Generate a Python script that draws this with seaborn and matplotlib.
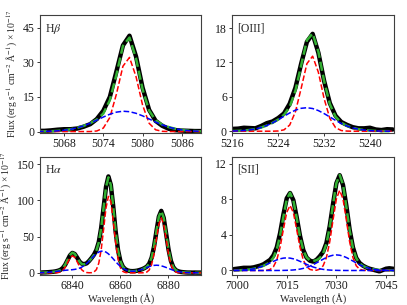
import numpy as np
import matplotlib
matplotlib.use('Agg')
import matplotlib.pyplot as plt
import seaborn as sns

# pixel grids (1 A sampling) and fluxes, units of 1e-17

# H beta
hb_wave = np.arange(5064, 5090)
hb_obs = [0.3, 0.3, 0.5, 0.8, 1.0, 1.0, 1.3, 2.1, 3.2, 5.4, 9.0, 15.0, 26.0,
          37.3, 41.5, 32.5, 19.0, 9.4, 4.6, 2.5, 1.2, 0.6, 0.4, 0.3, 0.2, 0.2]
hb_narrow = [0, 0, 0, 0, 0, 0, 0, 0, 0, 0.24, 1.5, 6.1, 16.2,
             28.3, 32.1, 23.8, 11.5, 3.6, 0.75, 0.1, 0, 0, 0, 0, 0, 0]
hb_broad = [0.03, 0.07, 0.14, 0.29, 0.55, 0.96, 1.6, 2.48, 3.62, 4.93, 6.28, 7.5, 8.4,
            8.8, 8.6, 7.9, 6.8, 5.47, 4.1, 2.9, 1.92, 1.19, 0.69, 0.37, 0.19, 0.09]

# [OIII]
o3_wave = np.arange(5216, 5245)
o3_obs = [0.4, 0.45, 0.6, 0.55, 0.5, 0.9, 1.4, 1.7, 2.3, 3.1, 4.8, 7.6, 11.8, 15.6, 17.0,
          13.7, 8.8, 4.9, 2.7, 1.6, 1.1, 0.7, 0.5, 0.5, 0.6, 0.3, 0.2, 0.35, 0.3]
o3_narrow = [0, 0, 0, 0, 0, 0, 0, 0, 0.04, 0.24, 1.08, 3.4, 7.5, 11.8, 13.1,
             10.3, 5.7, 2.25, 0.62, 0.12, 0.02, 0, 0, 0, 0, 0, 0, 0, 0]
o3_broad = [0.03, 0.06, 0.12, 0.22, 0.39, 0.64, 0.99, 1.46, 2.0, 2.61, 3.19, 3.68, 4.0, 4.1, 3.96,
            3.6, 3.08, 2.49, 1.89, 1.36, 0.91, 0.58, 0.35, 0.2, 0.1, 0.05, 0.02, 0.01, 0.0]

# H alpha + [NII]
ha_wave = np.arange(6826, 6895)
ha_obs = [0.5, 0.4, 0.6, 0.7, 0.9, 1.2, 1.5, 2.0, 2.8, 4.0,
          6.5, 11.0, 17.5, 24.0, 27.5, 26.0, 21.0, 15.5, 12.5, 12.0,
          13.2, 16.5, 20.5, 25.0, 31.5, 42.5, 62.0, 90.0, 118.5, 133.0,
          121.5, 92.0, 57.5, 31.5, 16.0, 8.5, 5.0, 3.3, 2.5, 2.3,
          2.5, 3.0, 3.9, 5.0, 6.5, 8.6, 12.8, 21.0, 36.5, 57.5,
          77.5, 85.5, 76.0, 54.5, 32.5, 16.5, 7.8, 3.8, 2.2, 1.3,
          0.9, 0.6, 0.4, 0.4, 0.3, 0.4, 0.3, 0.3, 0.3]
ha_narrow = [0, 0, 0, 0, 0, 0, 0, 0.06, 0.3, 1.1,
             3.2, 7.6, 14.0, 20.4, 23.5, 21.4, 15.4, 8.7, 3.9, 1.4,
             0.4, 0.1, 0.23, 1.2, 4.4, 13.3, 31.8, 60.0, 89.5, 105.5,
             98.3, 72.4, 42.2, 19.4, 7.0, 2.0, 0.46, 0.08, 0, 0,
             0, 0, 0, 0.02, 0.24, 1.1, 4.0, 11.5, 26.3, 47.3,
             67.3, 75.7, 67.3, 47.3, 26.3, 11.5, 4.0, 1.1, 0.24, 0.02,
             0, 0, 0, 0, 0, 0, 0, 0, 0]
ha_broad = [0.12, 0.2, 0.32, 0.49, 0.73, 1.03, 1.4, 1.81, 2.27, 2.72,
            3.14, 3.49, 3.79, 4.05, 4.33, 4.76, 5.42, 6.48, 8.05, 10.2,
            13.0, 16.2, 19.8, 23.3, 26.4, 28.7, 29.9, 29.8, 28.6, 26.2,
            23.0, 19.3, 15.5, 12.0, 8.9, 6.4, 4.5, 3.2, 2.46, 2.2,
            2.38, 2.92, 3.78, 4.88, 6.14, 7.43, 8.63, 9.63, 10.27, 10.5,
            10.27, 9.63, 8.63, 7.41, 6.1, 4.8, 3.62, 2.61, 1.81, 1.2,
            0.76, 0.46, 0.27, 0.15, 0.08, 0.04, 0.02, 0.01, 0.0]

# [SII] doublet, one broad component per line
s2_wave = np.arange(6999, 7049)
s2_obs = [0.15, 0.2, 0.25, 0.3, 0.3, 0.3, 0.35, 0.45, 0.55, 0.7,
          0.95, 1.2, 1.7, 2.6, 4.2, 6.3, 8.1, 8.7, 7.9, 6.0,
          3.9, 2.3, 1.45, 1.1, 1.0, 1.2, 1.6, 2.1, 3.1, 5.0,
          7.5, 9.8, 10.7, 9.6, 7.3, 4.6, 2.6, 1.4, 0.85, 0.55,
          0.35, 0.2, 0.1, 0.0, -0.1, 0.05, 0.2, 0.25, 0.2, 0.15]
s2_narrow = [0, 0, 0, 0, 0, 0, 0, 0, 0, 0,
             0.03, 0.12, 0.43, 1.18, 2.63, 4.63, 6.52, 7.3, 6.52, 4.63,
             2.63, 1.18, 0.43, 0.12, 0.03, 0.03, 0.15, 0.53, 1.46, 3.24,
             5.71, 8.04, 9.0, 8.04, 5.71, 3.24, 1.46, 0.53, 0.15, 0.03,
             0, 0, 0, 0, 0, 0, 0, 0, 0, 0]
s2_broad1 = [0.009, 0.016, 0.028, 0.048, 0.08, 0.126, 0.19, 0.28, 0.39, 0.53,
             0.69, 0.86, 1.03, 1.19, 1.31, 1.39, 1.42, 1.39, 1.31, 1.19,
             1.03, 0.86, 0.69, 0.53, 0.39, 0.28, 0.19, 0.126, 0.08, 0.048,
             0.028, 0.016, 0.009, 0.004, 0, 0, 0, 0, 0, 0,
             0, 0, 0, 0, 0, 0, 0, 0, 0, 0]
s2_broad2 = [0, 0, 0, 0, 0, 0, 0, 0, 0, 0,
             0, 0, 0, 0.003, 0.005, 0.011, 0.019, 0.035, 0.06, 0.098,
             0.156, 0.236, 0.347, 0.487, 0.656, 0.852, 1.06, 1.27, 1.46, 1.615,
             1.715, 1.75, 1.715, 1.615, 1.46, 1.27, 1.06, 0.852, 0.656, 0.487,
             0.347, 0.236, 0.156, 0.098, 0.06, 0.035, 0.019, 0.011, 0.005, 0.003]

sns.set_style('ticks')
plt.rcParams['font.family'] = ['Liberation Serif', 'DejaVu Serif']
plt.rcParams['mathtext.fontset'] = 'stix'

fig, axes = plt.subplots(2, 2, figsize=(4.07, 3.05), dpi=100)
fig.subplots_adjust(left=0.098, right=0.968, top=0.951, bottom=0.1,
                    wspace=0.192, hspace=0.2)

ylab = r'Flux (erg s$^{-1}$ cm$^{-2}$ Å$^{-1}$) × 10$^{-17}$'


def draw_panel(ax, wave, obs, narrow, broads, name, xlim, ylim, xticks, yticks):
    total = np.array(narrow, dtype=float)
    for b in broads:
        total = total + np.array(b)
    sns.lineplot(x=wave, y=obs, ax=ax, color='k', lw=3.2, zorder=2)
    sns.lineplot(x=wave, y=total, ax=ax, color='#33b033', lw=1.8,
                 linestyle='--', dashes=(3.5, 1.2), zorder=3)
    sns.lineplot(x=wave, y=narrow, ax=ax, color='red', lw=1.1,
                 linestyle='--', dashes=(3, 1.6), zorder=4)
    for b in broads:
        sns.lineplot(x=wave, y=b, ax=ax, color='blue', lw=1.1,
                     linestyle='--', dashes=(3, 1.6), zorder=5)
    ax.set_xlim(xlim)
    ax.set_ylim(ylim)
    ax.set_xticks(xticks)
    ax.set_yticks(yticks)
    ax.tick_params(labelsize=8.5, length=2.5, width=0.6, pad=1.5, colors='0.1')
    ax.text(0.03, 0.94, name, transform=ax.transAxes, ha='left', va='top', fontsize=8.5)
    for s in ax.spines.values():
        s.set_linewidth(0.8)
        s.set_color('0.25')
    ax.set_xlabel('')
    ax.set_ylabel('')


draw_panel(axes[0, 0], hb_wave, hb_obs, hb_narrow, [hb_broad], r'H$\beta$',
           (5064.3, 5089), (-0.6, 50.5), [5068, 5074, 5080, 5086], [0, 15, 30, 45])
draw_panel(axes[0, 1], o3_wave, o3_obs, o3_narrow, [o3_broad], '[OIII]',
           (5216, 5244.2), (-0.3, 20.3), [5216, 5224, 5232, 5240], [0, 6, 12, 18])
draw_panel(axes[1, 0], ha_wave, ha_obs, ha_narrow, [ha_broad], r'H$\alpha$',
           (6826.5, 6893.7), (-2.3, 160.5), [6840, 6860, 6880], [0, 50, 100, 150])
draw_panel(axes[1, 1], s2_wave, s2_obs, s2_narrow, [s2_broad1, s2_broad2], '[SII]',
           (6998.6, 7047.4), (-0.45, 12.8), [7000, 7015, 7030, 7045], [0, 4, 8, 12])

axes[0, 0].set_ylabel(ylab, fontsize=7, labelpad=2)
axes[1, 0].set_ylabel(ylab, fontsize=7, labelpad=2)
axes[1, 0].set_xlabel('Wavelength (Å)', fontsize=7.5, labelpad=1)
axes[1, 1].set_xlabel('Wavelength (Å)', fontsize=7.5, labelpad=1)

plt.savefig('out.png', dpi=100)
